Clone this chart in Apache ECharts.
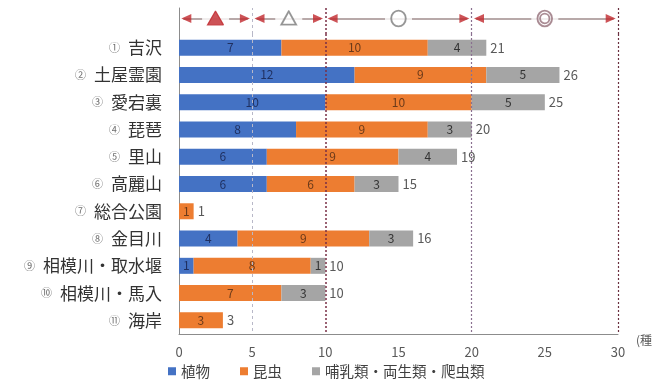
<!DOCTYPE html>
<html><head><meta charset="utf-8">
<script src="https://cdn.jsdelivr.net/npm/echarts@6/dist/echarts.min.js"></script>
<style>html,body{margin:0;padding:0;background:#fff}#c{width:669px;height:381px}</style>
</head><body><div id="c"></div>
<script>
const markers = ['①','②','③','④','⑤','⑥','⑦','⑧','⑨','⑩','⑪'];
const categories = ['吉沢','土屋霊園','愛宕裏','琵琶','里山','高麗山','総合公園','金目川','相模川・取水堰','相模川・馬入','海岸'];
const plants  = [7,12,10,8,6,6,0,4,1,0,0];
const insects = [10,9,10,9,9,6,1,9,8,7,3];
const animals = [4,5,5,3,4,3,0,3,1,3,0];
const totals  = [21,26,25,20,19,15,1,16,10,10,3];
const seriesNames = ['植物','昆虫','哺乳類・両生類・爬虫類'];
const dividers = [5,10,20,30];
const ranges = [[0,5,'▲'],[5,10,'△'],[10,20,'○'],[20,30,'◎']];

const chart = echarts.init(document.getElementById('c'));
const FONT = '"Noto Sans CJK JP", sans-serif';
const L = 179, R = 51, ARROW_Y = 0.6, INSET = 0.3;
const dividerStyles = {
  5:  {color:'#b8b8c8', type:[3,3], width:1},
  10: {color:'#7a2f45', type:[2,2], width:1.5},
  20: {color:'#8a7090', type:[2,2], width:1.2},
  30: {color:'#6a3040', type:[2,2], width:1.2}
};
const catData = categories.map((c,i)=>markers[i]+' '+c);
const lbl = (color)=>({show:true, position:'inside', color:color, fontSize:12, fontFamily:FONT,
  formatter:p=>p.value===0?'':String(p.value)});
const symColor = s => s==='▲' ? '#c0282d' : (s==='◎' ? '#a08088' : '#8c8c8c');

chart.setOption({
  animation:false,
  textStyle:{fontFamily:FONT},
  grid:[
    {left:L, right:R, top:34, bottom:47},
    {left:L, right:R, top:8, height:26}
  ],
  legend:{
    data:seriesNames, top:359, left:163, itemWidth:8, itemHeight:8, itemGap:30,
    icon:'rect', textStyle:{fontSize:14.5, color:'#404040', fontFamily:FONT}
  },
  xAxis:[
    {gridIndex:0, type:'value', min:0, max:30, interval:5,
     axisLine:{show:true, lineStyle:{color:'#8c8c8c'}}, axisTick:{show:false},
     splitLine:{show:false},
     axisLabel:{color:'#595959', fontSize:13, margin:12, fontFamily:FONT},
     name:'(種', nameLocation:'end', nameGap:18,
     nameTextStyle:{color:'#595959', fontSize:12, verticalAlign:'top', padding:[0,0,0,0]}},
    {gridIndex:1, type:'value', min:0, max:30, show:false}
  ],
  yAxis:[
    {gridIndex:0, type:'category', data:catData, inverse:true,
     axisLine:{show:true, lineStyle:{color:'#8c8c8c'}}, axisTick:{show:false},
     axisLabel:{margin:17, formatter:v=>{const i=v.indexOf(' ');return '{n|'+v.slice(0,i)+'}{t|'+v.slice(i+1)+'}';},
       rich:{n:{fontSize:11, color:'#707070', fontFamily:FONT, padding:[0,8,0,0]}, t:{fontSize:17, color:'#333333', fontFamily:FONT}}}},
    {gridIndex:1, type:'value', min:0, max:1,
     axisLine:{show:true, lineStyle:{color:'#8c8c8c'}}, axisTick:{show:false},
     axisLabel:{show:false}, splitLine:{show:false}}
  ],
  series:[
    {name:'total', type:'bar', xAxisIndex:0, yAxisIndex:0, data:totals, barWidth:16,
     itemStyle:{color:'rgba(0,0,0,0)'}, z:1, silent:true,
     label:{show:true, position:'right', distance:4, color:'#595959', fontSize:13, fontFamily:FONT},
     markLine:{silent:true, symbol:'none', label:{show:false},
       data:dividers.map(v=>({xAxis:v, lineStyle:dividerStyles[v]}))}},
    {name:seriesNames[0], type:'bar', stack:'a', data:plants, barWidth:16, barGap:'-100%',
     itemStyle:{color:'#4472C4'}, label:lbl('#1f2f5f'), z:3},
    {name:seriesNames[1], type:'bar', stack:'a', data:insects, barWidth:16,
     itemStyle:{color:'#ED7D31'}, label:lbl('#6b3a1a'), z:3},
    {name:seriesNames[2], type:'bar', stack:'a', data:animals, barWidth:16,
     itemStyle:{color:'#A5A5A5'}, label:lbl('#333333'), z:3},
    {name:'ranges', type:'scatter', xAxisIndex:1, yAxisIndex:1, data:[], silent:true,
     markLine:{silent:true, symbol:'none', label:{show:false},
       data:dividers.map(v=>({xAxis:v, lineStyle:dividerStyles[v]})).concat(
         ranges.map(r=>[{coord:[r[0]+INSET,ARROW_Y], lineStyle:{color:'#a08c8c', type:'solid', width:1.5}},
                        {coord:[r[1]-INSET,ARROW_Y]}]))}},
    {name:'arrowL', type:'scatter', xAxisIndex:1, yAxisIndex:1, silent:true, z:5,
     symbol:'triangle', symbolSize:[9,10], symbolRotate:90, itemStyle:{color:'#c0282d'},
     data:ranges.map(r=>[r[0]+INSET+0.2, ARROW_Y])},
    {name:'arrowR', type:'scatter', xAxisIndex:1, yAxisIndex:1, silent:true, z:5,
     symbol:'triangle', symbolSize:[9,10], symbolRotate:-90, itemStyle:{color:'#c0282d'},
     data:ranges.map(r=>[r[1]-INSET-0.2, ARROW_Y])},
    {name:'marks', type:'scatter', xAxisIndex:1, yAxisIndex:1, silent:true, z:6,
     symbolSize:1, itemStyle:{color:'rgba(0,0,0,0)'},
     data:ranges.map(r=>({value:[(r[0]+r[1])/2, ARROW_Y],
       label:{show:true, position:'inside', formatter:r[2], fontSize:17, fontWeight:'bold',
              color:symColor(r[2]), textBorderColor:symColor(r[2]), textBorderWidth:1.2,
              backgroundColor:'#fff', padding:[0,5], fontFamily:FONT}}))}
  ]
});
</script></body></html>
